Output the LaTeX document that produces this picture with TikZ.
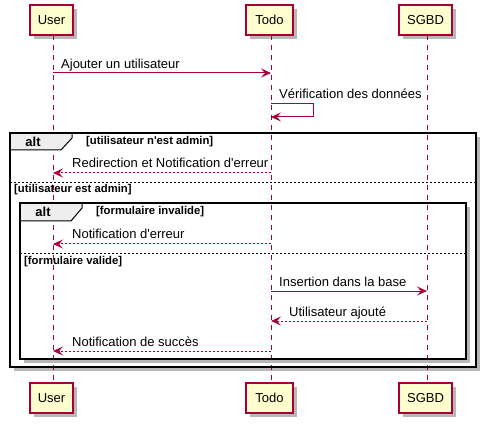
\documentclass[tikz,border=0pt]{standalone}
\usepackage{fontspec}
\setmainfont{Liberation Sans}[Ligatures=TeXReset]
\usetikzlibrary{arrows.meta}
\definecolor{pborder}{HTML}{A80036}
\definecolor{pfill}{HTML}{FEFECE}
\definecolor{tabfill}{HTML}{EEEEEE}
\definecolor{shade}{HTML}{B8B8B8}
\begin{document}
\begin{tikzpicture}[x=1pt,y=-1pt,
  part/.style={draw=pborder, fill=pfill, line width=1.1pt, minimum height=30pt, inner sep=0pt,
    font=\fontsize{13}{15}\selectfont},
  pshadow/.style={fill=shade},
  life/.style={draw=pborder, line width=0.8pt, dash pattern=on 5pt off 5pt},
  msg/.style={draw=pborder, line width=1pt, -{Stealth[length=10pt,width=9pt,inset=4pt]}},
  ret/.style={msg, dash pattern=on 2pt off 2pt},
  lbl/.style={anchor=base west, inner sep=0pt, font=\fontsize{13}{15}\selectfont},
  frame/.style={draw=black, line width=1.5pt},
  fshadow/.style={fill=shade},
  tab/.style={draw=black, fill=tabfill, line width=1pt},
  alttxt/.style={inner sep=0pt, font=\bfseries\fontsize{13}{15}\selectfont},
  guard/.style={anchor=west, inner sep=0pt, font=\bfseries\fontsize{11.3}{13}\selectfont},
  sep/.style={draw=black, line width=0.8pt, dash pattern=on 2pt off 2pt}
]
\useasboundingbox (0,0) rectangle (489,427);

% participant shadows
\foreach \xa/\xb in {30/73,246/293,399/452}{
  \fill[pshadow] (\xa+4,9) rectangle (\xb+4,39);
  \fill[pshadow] (\xa+4,387) rectangle (\xb+4,417);
}
% frame shadows and backgrounds
\fill[fshadow] (14,137) rectangle (480,371);
\fill[white] (10,133) rectangle (476,367);
\fill[fshadow] (24,207) rectangle (470,363);
\fill[white] (20,203) rectangle (466,359);

% participants
\node[part, minimum width=43pt] (uT) at (51.5,20) {User};
\node[part, minimum width=47pt] (tT) at (269.5,20) {Todo};
\node[part, minimum width=53pt] (sT) at (425.5,20) {SGBD};
\node[part, minimum width=43pt] (uB) at (51.5,398) {User};
\node[part, minimum width=47pt] (tB) at (269.5,398) {Todo};
\node[part, minimum width=53pt] (sB) at (425.5,398) {SGBD};

% lifelines
\coordinate (uL1) at (53,35); \coordinate (uL2) at (53,383);
\coordinate (tL1) at (271,35); \coordinate (tL2) at (271,383);
\coordinate (sL1) at (427,35); \coordinate (sL2) at (427,383);
\draw[life] (uL1) -- (uL2);
\draw[life] (tL1) -- (tL2);
\draw[life] (sL1) -- (sL2);

% message 1
\coordinate (m1a) at (53,73); \coordinate (m1b) at (271,73);
\draw[msg] (m1a) -- (m1b);
\node[lbl] (m1t) at (61,69) {Ajouter un utilisateur};

% self message
\coordinate (m2a) at (271,104); \coordinate (m2b) at (313,104);
\coordinate (m2c) at (313,117); \coordinate (m2d) at (271,117);
\draw[msg] (m2a) -- (m2b) -- (m2c) -- (m2d);
\node[lbl] (m2t) at (279,99) {Vérification des données};

% outer alt frame
\draw[tab] (10,133) -- (72,133) -- (72,138) -- (61,150) -- (10,150) -- cycle;
\draw[frame] (10,133) rectangle (476,367);
\node[alttxt] (f1alt) at (33,142) {alt};
\node[guard] (f1g) at (86,142) {[utilisateur n'est admin]};

% redirection
\coordinate (m3a) at (271,173); \coordinate (m3b) at (53,173);
\draw[ret] (m3a) -- (m3b);
\node[lbl] (m3t) at (72,168) {Redirection et Notification d'erreur};

% separator 1
\coordinate (s1a) at (10,182); \coordinate (s1b) at (476,182);
\draw[sep] (s1a) -- (s1b);
\node[guard] (s1g) at (14,190) {[utilisateur est admin]};

% inner alt frame
\draw[tab] (20,203) -- (82,203) -- (82,208) -- (71,221) -- (20,221) -- cycle;
\draw[frame] (20,203) rectangle (466,359);
\node[alttxt] (f2alt) at (43,212) {alt};
\node[guard] (f2g) at (96,212) {[formulaire invalide]};

% notification d'erreur
\coordinate (m4a) at (271,244); \coordinate (m4b) at (53,244);
\draw[ret] (m4a) -- (m4b);
\node[lbl] (m4t) at (72,239) {Notification d'erreur};

% separator 2
\coordinate (s2a) at (20,253); \coordinate (s2b) at (466,253);
\draw[sep] (s2a) -- (s2b);
\node[guard] (s2g) at (24,262) {[formulaire valide]};

% insertion
\coordinate (m5a) at (271,291); \coordinate (m5b) at (427,291);
\draw[msg] (m5a) -- (m5b);
\node[lbl] (m5t) at (279,286) {Insertion dans la base};

% utilisateur ajouté
\coordinate (m6a) at (427,321); \coordinate (m6b) at (271,321);
\draw[ret] (m6a) -- (m6b);
\node[lbl] (m6t) at (289,316) {Utilisateur ajouté};

% notification de succès
\coordinate (m7a) at (271,351); \coordinate (m7b) at (53,351);
\draw[ret] (m7a) -- (m7b);
\node[lbl] (m7t) at (72,346) {Notification de succès};
\end{tikzpicture}
\end{document}
